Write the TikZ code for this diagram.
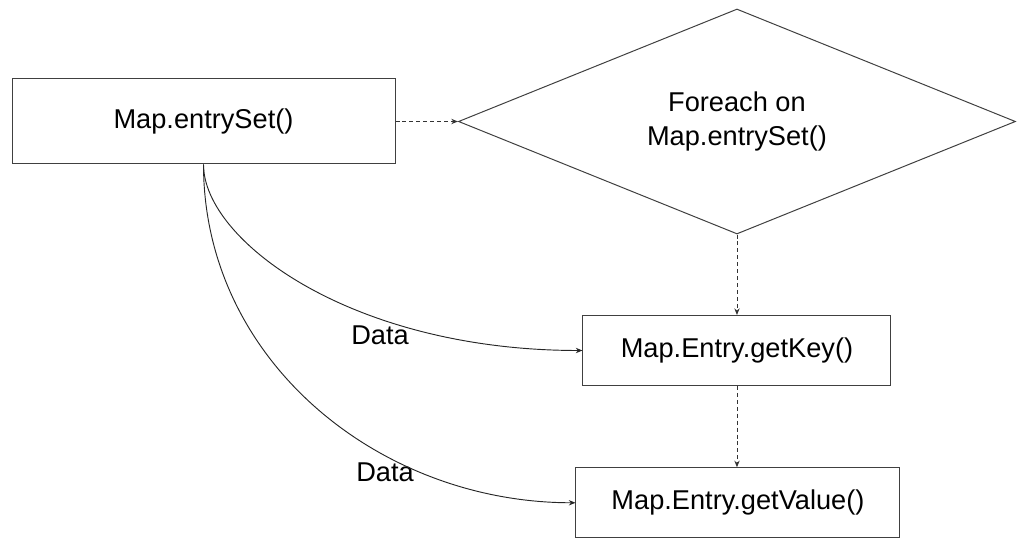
\documentclass[tikz,border=0pt]{standalone}
\usepackage{fontspec}
\setmainfont{Liberation Sans}
\usetikzlibrary{shapes.geometric,arrows.meta}
\begin{document}
\begin{tikzpicture}[x=0.75pt, y=-0.75pt, node distance=3cm,
    block/.style={rectangle, draw=black!75, line width=0.75pt, minimum height=52.5pt, text centered, inner sep=0pt},
    decision/.style={diamond, aspect=2.5, draw=black!75, line width=0.75pt, minimum width=417.75pt, minimum height=168.75pt, inner sep=0pt, align=center},
    flow/.style={draw=black!80, line width=0.7pt, dashed, dash pattern=on 3pt off 2.2pt, -{Stealth[length=5pt,width=4pt]}},
    data/.style={draw=black!85, line width=0.7pt, -{Stealth[length=5pt,width=4pt]}},
    font=\fontsize{20.4}{26}\selectfont]

        % Marco de la figura
        \useasboundingbox (0,0) rectangle (1019,538);

        % Nodos principales
        \node[block, minimum width=287.25pt, minimum height=63.75pt] (entrySet) at (203.5,121.5) {Map.entrySet()};
        \node[decision, right of=entrySet, node distance=400.1pt] (foreach) {Foreach on\\Map.entrySet()};
        \node[block, minimum width=231pt, below of=foreach, node distance=171.75pt] (getKey) {Map.Entry.getKey()};
        \node[block, minimum width=243pt, below of=getKey, node distance=114.2pt, xshift=0.75pt] (getValue) {Map.Entry.getValue()};

        % Etiquetas de las curvas
        \node (data1) at (380,335) {Data};
        \node (data2) at (385,472) {Data};

        % Conexiones punteadas
        \draw [flow] (entrySet) -- (foreach);
        \draw [flow] (foreach) -- (getKey);
        \draw [flow] (getKey.south) -- (getKey.south |- getValue.north);

        % Conexiones de datos desde la esquina inferior
        \draw [data] (entrySet.south) to[out=-90, in=180, out looseness=0.46, in looseness=1.4] (getKey.west);
        \draw [data] (entrySet.south) to[out=-90, in=180, looseness=1] (getValue.west);

    \end{tikzpicture}
\end{document}
